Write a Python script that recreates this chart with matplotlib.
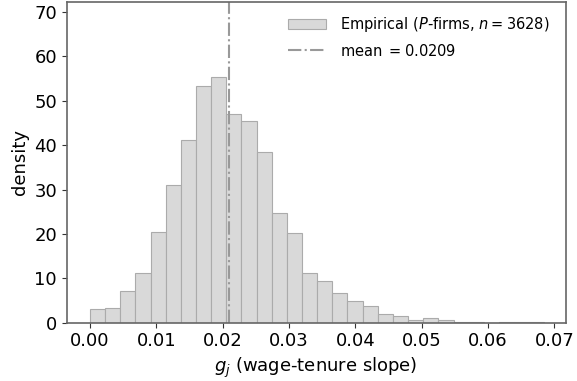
import numpy as np
import matplotlib.pyplot as plt

# histogram (density, 30 bins over [0, 0.0685])
bin_lo = 0.0
bin_hi = 0.0685
density = [3.1, 3.2, 7.2, 11.3, 20.5, 31.0, 41.1, 53.3, 55.3, 46.9,
           45.5, 38.4, 24.6, 20.3, 11.3, 9.5, 6.75, 4.95, 3.8, 2.0,
           1.4, 0.7, 1.0, 0.5, 0.2, 0.12, 0.0, 0.12, 0.24, 0.12]
mean_val = 0.0209
n_firms = 3628
xticks = [0.00, 0.01, 0.02, 0.03, 0.04, 0.05, 0.06, 0.07]
yticks = [0, 10, 20, 30, 40, 50, 60, 70]

edges = np.linspace(bin_lo, bin_hi, len(density) + 1)
centers = 0.5 * (edges[:-1] + edges[1:])

fig = plt.figure(figsize=(5.77, 3.81), dpi=100)
ax = fig.add_axes([0.1156, 0.153, 0.8648, 0.8425])

ax.hist(centers, bins=edges, weights=density, color="#d9d9d9",
        edgecolor="#ababab", linewidth=0.8,
        label=rf"Empirical ($P$-firms, $n = {n_firms}$)")
ax.axvline(mean_val, color="#999999", linestyle="-.", linewidth=1.5,
           label=rf"mean $= {mean_val:.4f}$")

ax.set_xlim(-0.0035, 0.0717)
ax.set_ylim(0, 72.3)
ax.set_xticks(xticks)
ax.set_xticklabels([f"{t:.2f}" for t in xticks])
ax.set_yticks(yticks)
ax.tick_params(labelsize=13, color="#333333")
for s in ax.spines.values():
    s.set_color("#666666")
    s.set_linewidth(1.2)

ax.set_xlabel(r"$g_j$ (wage-tenure slope)", fontsize=13)
ax.set_ylabel("density", fontsize=13)

ax.legend(loc="upper right", fontsize=10.5, frameon=False,
          handlelength=2.6, handletextpad=1.0, labelspacing=0.6,
          bbox_to_anchor=(0.995, 1.0))

fig.savefig("out.png", dpi=100)
plt.close(fig)
